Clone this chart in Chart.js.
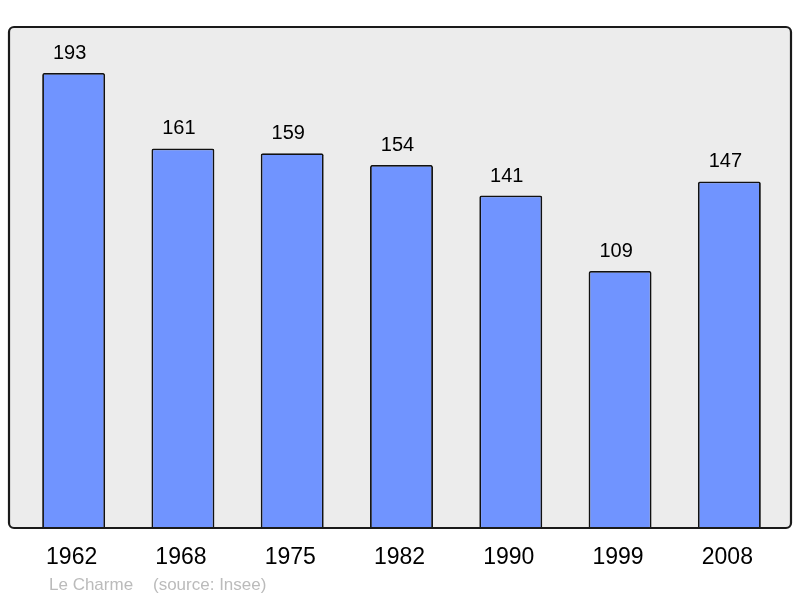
<!DOCTYPE html>
<html>
<head>
<meta charset="utf-8">
<script src="https://cdn.jsdelivr.net/npm/chart.js@4"></script>
<style>
  html, body { margin: 0; padding: 0; background: #ffffff; }
  #wrap { width: 800px; height: 598px; }
</style>
</head>
<body>
<div id="wrap"><canvas id="c" width="800" height="598"></canvas></div>
<script>
const years = ["1962", "1968", "1975", "1982", "1990", "1999", "2008"];
const population = [193, 161, 159, 154, 141, 109, 147];
const commune = "Le Charme";
const source = "(source: Insee)";

const FONT = "'Liberation Sans', Arial, sans-serif";

const framePlugin = {
  id: 'frame',
  beforeDraw(chart) {
    const ctx = chart.ctx;
    const a = chart.chartArea;
    const x0 = 9, y0 = a.top, x1 = 791, y1 = a.bottom;
    ctx.save();
    ctx.beginPath();
    ctx.roundRect(x0, y0, x1 - x0, y1 - y0, 5);
    ctx.fillStyle = '#ececec';
    ctx.fill();
    ctx.restore();
  },
  afterDatasetsDraw(chart) {
    const ctx = chart.ctx;
    const a = chart.chartArea;
    const x0 = 9, y0 = a.top, x1 = 791, y1 = a.bottom;
    ctx.save();
    ctx.beginPath();
    ctx.roundRect(x0, y0, x1 - x0, y1 - y0, 5);
    ctx.lineWidth = 2.2;
    ctx.strokeStyle = '#1a1a1a';
    ctx.stroke();
    // value labels
    const meta = chart.getDatasetMeta(0);
    ctx.fillStyle = '#000000';
    ctx.font = '20px ' + FONT;
    ctx.textAlign = 'center';
    ctx.textBaseline = 'alphabetic';
    meta.data.forEach((bar, i) => {
      ctx.fillText(String(population[i]), bar.x - 4, bar.y - 14);
    });
    // footer
    ctx.fillStyle = '#bbbbbb';
    ctx.font = '17px ' + FONT;
    ctx.textAlign = 'left';
    ctx.fillText(commune, 49, 590);
    ctx.fillText(source, 153, 590);
    ctx.restore();
  }
};

new Chart(document.getElementById('c'), {
  type: 'bar',
  data: {
    labels: years,
    datasets: [{
      data: population,
      backgroundColor: '#7094ff',
      borderColor: '#111111',
      borderWidth: 1.8,
      borderRadius: 2,
      borderSkipped: 'bottom',
      barPercentage: 0.576,
      categoryPercentage: 1.0
    }]
  },
  options: {
    responsive: false,
    animation: false,
    devicePixelRatio: 1,
    layout: { padding: { left: 19, right: 16, top: 27, bottom: 0 } },
    plugins: { legend: { display: false }, tooltip: { enabled: false } },
    scales: {
      x: {
        grid: { display: false, drawTicks: false },
        border: { display: false },
        ticks: { color: '#000000', font: { family: FONT, size: 23 }, padding: 16, labelOffset: -2, maxRotation: 0 },
        afterFit(scale) { scale.height = 70; }
      },
      y: {
        display: false,
        min: 0,
        max: 212.5
      }
    }
  },
  plugins: [framePlugin]
});
</script>
</body>
</html>
